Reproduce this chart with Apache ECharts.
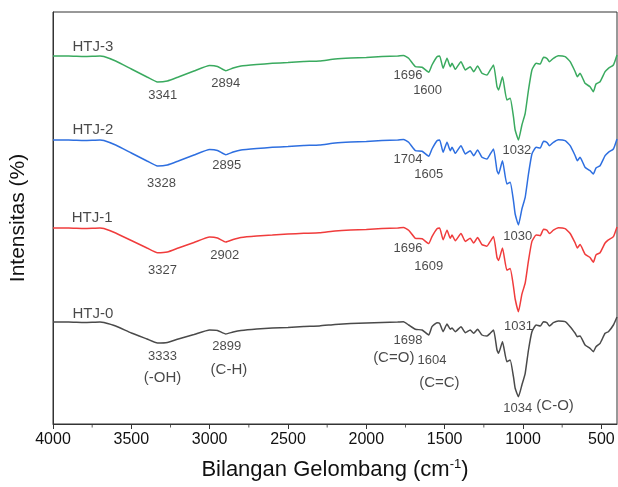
<!DOCTYPE html>
<html>
<head>
<meta charset="utf-8">
<script src="https://cdn.jsdelivr.net/npm/echarts@6/dist/echarts.min.js"></script>
<style>
  html, body { margin: 0; padding: 0; background: #fff; }
  #chart { width: 618px; height: 487px; }
</style>
</head>
<body>
<div id="chart"></div>
<script>
// wavenumber grid shared by all four spectra (cm-1)
const wavenumbers = [4000, 3900, 3800, 3700, 3675, 3600, 3500, 3400, 3333, 3270, 3200, 3100, 3000, 2950, 2897, 2850, 2800, 2700, 2600, 2500, 2400, 2300, 2200, 2100, 2000, 1900, 1800,
  1763, 1730, 1687, 1644, 1602, 1581, 1549, 1532, 1510, 1485, 1464, 1453, 1432, 1396, 1368, 1337, 1315, 1290, 1262, 1230, 1209, 1188, 1166, 1156, 1131, 1103, 1082, 1061, 1050, 1029, 1007, 986, 965, 943, 916, 890, 869, 848, 831, 806, 774, 731, 699, 667, 653, 636, 604, 572, 551, 534, 508, 476, 455, 423, 400];

// stacked intensities (arbitrary units, offset per sample)
const htj3 = [368, 368, 367.5, 368, 367.5, 363, 355, 347, 342, 343, 347, 353, 358.5, 357.5, 353.3, 356, 358, 359.5, 360.7, 361.5, 362.5, 363, 365, 366, 366.5, 367.5, 368,
  368.5, 365.7, 357.3, 356.7, 351.7, 359, 367.3, 368, 355.7, 365.7, 357.3, 360.7, 354.7, 362.3, 354, 357.3, 352.3, 358, 350.7, 349, 354, 359, 337.3, 334, 347.3, 324, 325.7, 307.3, 294, 284, 299, 310.7, 334, 354, 360.7, 360, 366.7, 365.7, 362.3, 365.7, 368.3, 367.3, 362.3, 352.3, 347.3, 350.7, 340.7, 337.3, 332.3, 340, 342.3, 352.3, 355.7, 359, 369];
const htj2 = [284, 284, 283.5, 284, 283.5, 279, 271, 263, 258, 259, 263, 269, 274.5, 273.5, 269.3, 272, 274, 275.5, 276.7, 277.5, 278.5, 279, 281, 282, 282.5, 283.5, 284,
  284.5, 281.7, 273.3, 272.7, 267.7, 275, 283.3, 284, 271.7, 281.7, 273.3, 276.7, 270.7, 278.3, 270, 273.3, 268.3, 274, 266.7, 265, 270, 275, 253.3, 250, 263.3, 240, 241.7, 223.3, 210, 199, 215, 226.7, 250, 270, 276.7, 276, 282.7, 281.7, 278.3, 281.7, 284.3, 283.3, 278.3, 268.3, 263.3, 266.7, 256.7, 253.3, 250, 256, 258.3, 268.3, 271.7, 275, 285];
const htj1 = [196, 196, 195.5, 196, 195.5, 191, 183.5, 176, 171.3, 172, 176, 181.5, 187, 186, 182, 184.5, 186.5, 188, 189, 190, 190.7, 191.2, 193, 194, 194.5, 195.5, 196,
  196.5, 193.8, 185.7, 185.2, 180.4, 187.4, 195.3, 196, 184.2, 193.8, 185.7, 189, 183.2, 190.5, 182.6, 185.7, 181, 186.4, 179.4, 177.8, 182.6, 187.4, 166.5, 163.4, 176.1, 153.8, 155.4, 137.7, 125, 112.3, 129.8, 141, 163.4, 182.6, 189, 188.3, 194.8, 193.8, 190.5, 193.8, 196.3, 195.3, 190.5, 181, 176.1, 179.4, 169.8, 166.5, 161.7, 169.1, 171.3, 181, 184.2, 187.4, 197];
const htj0 = [102, 102, 101.5, 102, 101.5, 98, 91, 85, 81, 81.5, 85, 89.5, 94, 93.5, 90, 92, 93.5, 95, 96, 96.5, 97.5, 98, 99.5, 100.5, 101, 101.5, 102,
  102.3, 99, 94.7, 94, 89, 97.3, 101.3, 100.7, 92.3, 100, 94.7, 96, 92.3, 97.3, 91.3, 94, 90.7, 94.7, 89, 88, 90.7, 94, 74, 70.7, 82.3, 62.3, 64, 47.3, 35.7, 27.3, 39, 50.7, 74, 92.3, 99, 98, 102.3, 101.3, 98, 101.3, 103, 102.3, 97.3, 90.7, 87.3, 88, 79, 75.7, 72.3, 77.3, 80.7, 90.7, 92.3, 99, 107];

const seriesNames = ["HTJ-3", "HTJ-2", "HTJ-1", "HTJ-0"];
const seriesColors = ["#3aaa5f", "#2e6fe0", "#f03c3c", "#4a4a4a"];

// x-axis ticks
const majorTicks = [4000, 3500, 3000, 2500, 2000, 1500, 1000, 500];
const minorTicks = [3750, 3250, 2750, 2250, 1750, 1250, 750];

// annotations: [wavenumber, intensity, text, kind]
const notes = [
  [3745, 377, "HTJ-3", "name"],
  [3745, 294, "HTJ-2", "name"],
  [3750, 206, "HTJ-1", "name"],
  [3745, 110, "HTJ-0", "name"],
  [3299, 329, "3341", "peak"],
  [2898, 340.7, "2894", "peak"],
  [1734, 349, "1696", "peak"],
  [1609, 334, "1600", "peak"],
  [1039, 273.3, "1032", "peak"],
  [3307, 240.7, "3328", "peak"],
  [2891, 258.3, "2895", "peak"],
  [1734, 264.7, "1704", "peak"],
  [1602, 250, "1605", "peak"],
  [3301, 154, "3327", "peak"],
  [2904, 169, "2902", "peak"],
  [1734, 175.7, "1696", "peak"],
  [1602, 157.3, "1609", "peak"],
  [1033, 187.3, "1030", "peak"],
  [3301, 67.3, "3333", "peak"],
  [3301, 45.7, "(-OH)", "group"],
  [2891, 77.3, "2899", "peak"],
  [2877, 54, "(C-H)", "group"],
  [1029, 98, "1031", "peak"],
  [1734, 83.3, "1698", "peak"],
  [1825, 65.7, "(C=O)", "group"],
  [1581, 64, "1604", "peak"],
  [1534, 40.7, "(C=C)", "group"],
  [1033, 15.7, "1034", "peak"],
  [795, 18, "(C-O)", "group"]
];

const FONT = "Liberation Sans, Arial, sans-serif";
const fontSizes = { name: 15, peak: 13, group: 15 };

const chart = echarts.init(document.getElementById("chart"));

const spectra = [htj3, htj2, htj1, htj0].map((vals, i) => ({
  name: seriesNames[i],
  type: "line",
  showSymbol: false,
  smooth: 0.15,
  data: wavenumbers.map((w, k) => [w, vals[k]]),
  lineStyle: { color: seriesColors[i], width: 1.5 },
  itemStyle: { color: seriesColors[i] },
  silent: true,
  z: 3,
}));

const option = {
  animation: false,
  grid: {
    left: 52,
    right: 1,
    top: 12,
    bottom: 63,
    show: true,
    borderColor: "#333",
    borderWidth: 1,
  },
  xAxis: {
    type: "value",
    min: 400,
    max: 4000,
    inverse: true,
    position: "bottom",
    name: "Bilangan Gelombang (cm{sup|-1})",
    nameLocation: "middle",
    nameGap: 34,
    nameTextStyle: {
      fontFamily: FONT,
      fontSize: 22,
      color: "#111",
      rich: { sup: { fontFamily: FONT, fontSize: 13, verticalAlign: "top", padding: [0, 0, 10, 0], color: "#111" } },
    },
    axisLine: { show: true, onZero: false, lineStyle: { color: "#333", width: 1 } },
    axisTick: { show: true, inside: false, length: 5, customValues: majorTicks, lineStyle: { color: "#333", width: 1 } },
    axisLabel: { customValues: majorTicks, margin: 8, fontFamily: FONT, fontSize: 16, color: "#111", formatter: (v) => String(v) },
    splitLine: { show: false },
  },
  yAxis: {
    type: "value",
    min: 0,
    max: 412,
    name: "Intensitas (%)",
    nameLocation: "middle",
    nameGap: 24,
    nameTextStyle: { fontFamily: FONT, fontSize: 21, color: "#111" },
    axisLine: { show: true, lineStyle: { color: "#333", width: 1 } },
    axisTick: { show: false },
    axisLabel: { show: false },
    splitLine: { show: false },
  },
  series: [
    ...spectra,
    {
      // short minor ticks hanging below the x axis
      name: "minor ticks",
      type: "scatter",
      symbol: "rect",
      symbolSize: [1, 3],
      symbolOffset: [0, 2],
      clip: false,
      silent: true,
      itemStyle: { color: "#333" },
      data: minorTicks.map((v) => [v, 0]),
      z: 6,
    },
    {
      name: "notes",
      type: "scatter",
      symbolSize: 1,
      silent: true,
      itemStyle: { color: "rgba(0,0,0,0)" },
      data: notes.map((n) => ({
        value: [n[0], n[1]],
        label: {
          show: true,
          position: "inside",
          formatter: n[2],
          fontFamily: FONT,
          fontSize: fontSizes[n[3]],
          color: "#1a1a1a",
        },
      })),
      z: 5,
    },
  ],
};

chart.setOption(option);
window.addEventListener("resize", () => chart.resize());
</script>
</body>
</html>
